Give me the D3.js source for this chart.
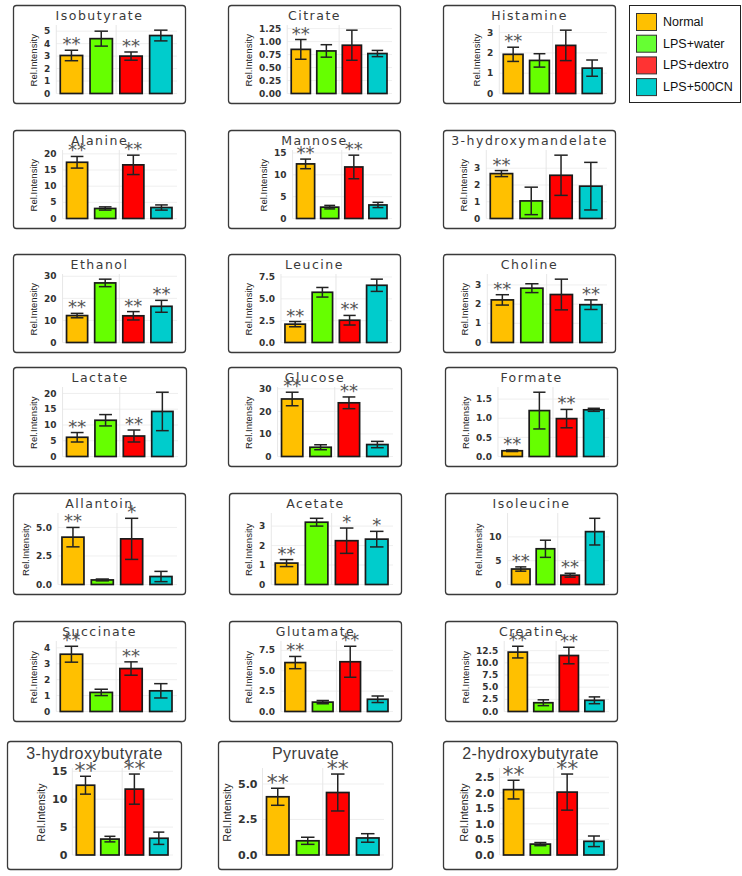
<!DOCTYPE html>
<html><head><meta charset="utf-8">
<script src="https://cdn.jsdelivr.net/npm/d3@7"></script>
<style>body{margin:0;background:#fff}svg{display:block}</style>
</head><body>
<script>
// ---------- DATA ----------
const groups = ["Normal", "LPS+water", "LPS+dextro", "LPS+500CN"];
const metabolites = ["Isobutyrate","Citrate","Histamine","Alanine","Mannose","3-hydroxymandelate",
  "Ethanol","Leucine","Choline","Lactate","Glucose","Formate","Allantoin","Acetate","Isoleucine",
  "Succinate","Glutamate","Creatine","3-hydroxybutyrate","Pyruvate","2-hydroxybutyrate"];
const means = [
  [3.05,4.4,3.0,4.65],[0.85,0.82,0.93,0.77],[1.93,1.63,2.37,1.25],
  [17.4,3.1,16.6,3.4],[12.5,2.6,11.8,3.1],[2.68,1.05,2.58,1.93],
  [12.2,27.0,12.1,16.4],[2.1,5.75,2.55,6.55],[2.22,2.83,2.5,1.97],
  [6.1,11.5,6.5,14.3],[25.5,4.1,23.8,5.3],[0.15,1.2,0.99,1.22],
  [4.15,0.4,4.0,0.7],[1.1,3.2,2.25,2.33],[3.25,7.5,1.95,11.1],
  [3.6,1.2,2.7,1.3],[6.0,1.15,6.1,1.5],[12.2,1.8,11.5,2.3],
  [12.5,2.85,11.8,3.0],[4.1,1.0,4.4,1.2],[2.1,0.35,2.02,0.44]];
const errors = [
  [0.42,0.6,0.33,0.43],[0.19,0.12,0.29,0.06],[0.35,0.33,0.75,0.4],
  [1.8,0.5,3.0,0.8],[1.1,0.4,2.7,0.6],[0.18,0.82,1.2,1.42],
  [1.0,1.7,1.9,2.7],[0.3,0.55,0.55,0.7],[0.27,0.23,0.8,0.25],
  [1.5,1.8,1.9,6.1],[3.0,1.1,2.6,1.4],[0.02,0.48,0.24,0.04],
  [0.85,0.08,1.8,0.45],[0.18,0.2,0.65,0.4],[0.45,1.8,0.4,2.8],
  [0.5,0.2,0.42,0.45],[0.75,0.2,1.9,0.4],[1.2,0.6,1.7,0.7],
  [1.6,0.5,2.7,1.1],[0.6,0.25,1.3,0.3],[0.3,0.05,0.58,0.17]];
const stars = [
  ["**","","**",""],["**","","",""],["**","","",""],
  ["**","","**",""],["**","","**",""],["**","","",""],
  ["**","","**","**"],["**","","**",""],["**","","","**"],
  ["**","","**",""],["**","","**",""],["**","","**",""],
  ["**","","*",""],["**","","*","*"],["**","","**",""],
  ["**","","**",""],["**","","**",""],["**","","**",""],
  ["**","","**",""],["**","","**",""],["**","","**",""]];
const tickLabels = [
  ["0","1","2","3","4","5"],["0.00","0.25","0.50","0.75","1.00","1.25"],["0","1","2","3"],
  ["0","5","10","15","20"],["0","5","10","15"],["0","1","2","3"],
  ["0","10","20","30"],["0.0","2.5","5.0","7.5"],["0","1","2","3"],
  ["0","5","10","15","20"],["0","10","20","30"],["0.0","0.5","1.0","1.5"],
  ["0.0","2.5","5.0"],["0","1","2","3"],["0","5","10"],
  ["0","1","2","3","4"],["0.0","2.5","5.0","7.5"],["0.0","2.5","5.0","7.5","10.0","12.5"],
  ["0","5","10","15"],["0.0","2.5","5.0"],["0.0","0.5","1.0","1.5","2.0","2.5"]];
const yTitle = "Rel.Intensity";

// ---------- LAYOUT (positions / styles) ----------
// [x, y, width, height, y-title offset, large]
const layout = [
  [13,5,173,99,20,0],[228,5,173,99,20,0],[443,5,173,99,33,0],
  [13,130,173,99,20,0],[228,130,173,99,35,0],[443,130,173,99,20,0],
  [13,254,173,99,20,0],[228,254,173,99,20,0],[443,254,173,99,21,0],
  [13,367,174,100,20,0],[228,367,174,100,20,0],[445,367,173,100,20,0],
  [13,493,173,102,12,0],[229,493,173,102,19,0],[445,493,173,102,33,0],
  [13,621,173,101,20,0],[229,621,173,101,19,0],[445,621,173,101,20,0],
  [7,741,175,129,34,1],[218,741,175,129,9,1],[443,741,175,129,21,1]];
const barColors = ["#FFC000","#66FF00","#FF0000","#00CCCC"];
const legendColors = ["#FFC000","#66FF33","#FF3333","#00CCCC"];

const svg = d3.select("body").append("svg").attr("width",742).attr("height",876);

metabolites.forEach((name, i) => {
  const [bx,by,bw,bh,yt,big] = layout[i];
  const g = svg.append("g");
  g.append("rect").attr("x",bx+0.5).attr("y",by+0.5).attr("width",bw-1).attr("height",bh-1)
    .attr("rx",3).attr("fill","#fff").attr("stroke","#3a3a3a").attr("stroke-width",1.3);

  // title
  g.append("text").attr("x",bx+bw/2).attr("y",by+(big?18:14.5)).attr("text-anchor","middle")
    .attr("font-family",big?"Liberation Sans, Arial":"DejaVu Sans")
    .attr("font-size",big?16:12.5).attr("letter-spacing",big?0.5:1.5)
    .attr("fill","#3a3a3a").text(name);

  const zeroY = by + bh - (big?15:10.5);
  const topY = by + (big?29:22);
  const ticks = tickLabels[i].map(Number);
  const maxV = d3.max(means[i].map((m,k)=>m+errors[i][k]))*1.05;
  const y = d3.scaleLinear().domain([0,maxV]).range([zeroY, topY]);

  // tick labels
  const tickLeft = bx + yt + 11;
  const tl = g.append("g");
  const lbls = tl.selectAll("text").data(tickLabels[i]).join("text")
    .attr("font-family","DejaVu Sans").attr("font-weight","bold")
    .attr("font-size",big?11:9).attr("fill","#333")
    .attr("dy","0.35em").text(d=>d);
  let maxW = 0; lbls.each(function(){ maxW = Math.max(maxW, this.getComputedTextLength()); });
  const tickRight = tickLeft + maxW;
  lbls.attr("x",tickRight).attr("text-anchor","end").attr("y",d=>y(+d));

  const barsL = tickRight + (big?9:10), barsR = bx + bw - 14;
  const x = d3.scaleBand().domain(groups).range([barsL, barsR]).paddingInner(0.25).paddingOuter(0);
  const plotL = barsL - 4, plotR = bx + bw - 9;

  // grid
  g.selectAll("line.hg").data(ticks).join("line").attr("class","hg")
    .attr("x1",plotL).attr("x2",plotR).attr("y1",d=>y(d)).attr("y2",d=>y(d))
    .attr("stroke","#ebebeb").attr("stroke-width",0.8);
  const midX = (x(groups[1])+x.bandwidth()+x(groups[2]))/2;
  [plotL, midX].forEach(v=>{
    g.append("line").attr("x1",v).attr("x2",v).attr("y1",topY-2).attr("y2",zeroY)
      .attr("stroke","#e4e4e4").attr("stroke-width",0.9);
  });

  // y title
  g.append("text").attr("transform",`translate(${bx+yt},${(zeroY+topY)/2}) rotate(-90)`)
    .attr("text-anchor","middle").attr("dominant-baseline","central")
    .attr("font-family","Liberation Sans, Arial").attr("font-size",big?10.5:9.5)
    .attr("fill","#222").text(yTitle);

  const rows = groups.map((grp,k)=>({grp, m:means[i][k], e:errors[i][k], s:stars[i][k], c:barColors[k]}));
  // bars
  g.selectAll("rect.bar").data(rows).join("rect").attr("class","bar")
    .attr("x",d=>x(d.grp)).attr("width",x.bandwidth())
    .attr("y",d=>y(d.m)).attr("height",d=>zeroY-y(d.m))
    .attr("fill",d=>d.c).attr("stroke","#1a1a1a").attr("stroke-width",1.7);
  // error bars
  const cw = x.bandwidth()*0.3;
  rows.forEach(d=>{
    const cx = x(d.grp)+x.bandwidth()/2;
    const yt1 = y(d.m+d.e), yb1 = y(Math.max(0,d.m-d.e));
    g.append("line").attr("x1",cx).attr("x2",cx).attr("y1",yt1).attr("y2",yb1)
      .attr("stroke","#222").attr("stroke-width",1.5);
    [yt1,yb1].forEach(v=>g.append("line").attr("x1",cx-cw).attr("x2",cx+cw).attr("y1",v).attr("y2",v)
      .attr("stroke","#222").attr("stroke-width",1.5));
    if (d.s) {
      g.append("text").attr("x",cx).attr("y",yt1+(big?2:0)).attr("text-anchor","middle")
        .attr("font-family","DejaVu Sans").attr("font-size",big?22:18)
        .attr("fill","#555").text(d.s);
    }
  });
});

// legend
const lg = svg.append("g");
lg.append("rect").attr("x",629.5).attr("y",5.5).attr("width",111).attr("height",97)
  .attr("fill","#fff").attr("stroke","#222").attr("stroke-width",1);
groups.forEach((grp,k)=>{
  const yy = 13 + k*21.7;
  lg.append("rect").attr("x",636.5).attr("y",yy+0.5).attr("width",20).attr("height",17)
    .attr("fill",legendColors[k]).attr("stroke","#333").attr("stroke-width",1);
  lg.append("text").attr("x",663).attr("y",yy+9).attr("dominant-baseline","central")
    .attr("font-family","Liberation Sans, Arial").attr("font-size",12.5).attr("fill","#111").text(grp);
});
</script>
</body></html>
